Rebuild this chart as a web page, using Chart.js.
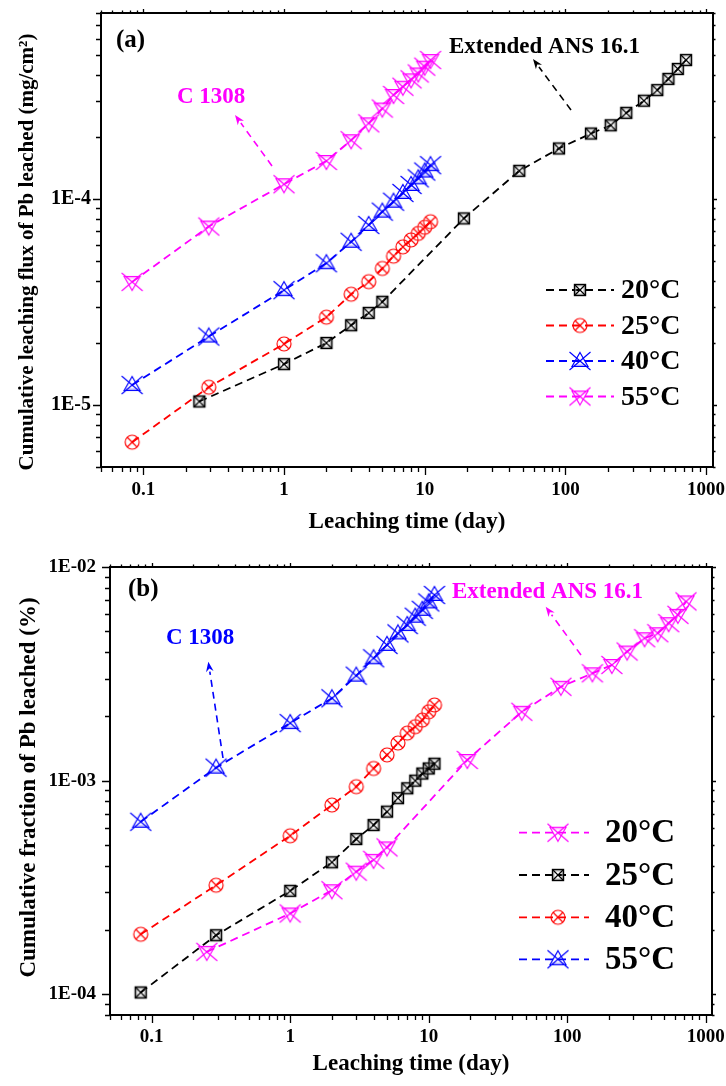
<!DOCTYPE html>
<html>
<head>
<meta charset="utf-8">
<script src="https://cdn.jsdelivr.net/npm/chart.js@4.4.1/dist/chart.umd.min.js"></script>
<style>
  html, body { margin: 0; padding: 0; background: #fff; }
  .panel { position: relative; width: 726px; height: 543px; }
  canvas { display: block; }
</style>
</head>
<body>
<div class="panel"><canvas id="chartA" width="726" height="543"></canvas></div>
<div class="panel"><canvas id="chartB" width="726" height="543"></canvas></div>
<script>
// ---- leaching schedules (days) ----
const daysC1308 = [0.0833, 0.2917, 1, 2, 3, 4, 5, 6, 7, 8, 9, 10, 11];
const daysANS   = [0.25, 1, 2, 3, 4, 5, 19, 47, 90, 152, 210, 271, 362, 450, 540, 630, 720];

// ---- (a) cumulative leaching flux of Pb (mg/cm2) ----
const fluxA20 = [1.04e-5, 1.58e-5, 2.0e-5, 2.44e-5, 2.8e-5, 3.17e-5, 8.05e-5, 1.37e-4, 1.76e-4,
                 2.08e-4, 2.28e-4, 2.62e-4, 3.0e-4, 3.38e-4, 3.83e-4, 4.28e-4, 4.73e-4];
const fluxA25 = [6.6e-6, 1.22e-5, 1.98e-5, 2.67e-5, 3.45e-5, 3.97e-5, 4.6e-5, 5.28e-5, 5.86e-5,
                 6.33e-5, 6.81e-5, 7.29e-5, 7.76e-5];
const fluxA40 = [1.25e-5, 2.15e-5, 3.61e-5, 4.88e-5, 6.2e-5, 7.48e-5, 8.68e-5, 9.7e-5, 1.07e-4,
                 1.17e-4, 1.26e-4, 1.36e-4, 1.46e-4];
const fluxA55 = [3.96e-5, 7.35e-5, 1.18e-4, 1.53e-4, 1.93e-4, 2.33e-4, 2.75e-4, 3.2e-4, 3.51e-4,
                 3.81e-4, 4.07e-4, 4.39e-4, 4.73e-4];

// ---- (b) cumulative fraction of Pb leached (%) ----
const fracB20 = [1.58e-4, 2.39e-4, 3.07e-4, 3.75e-4, 4.26e-4, 4.87e-4, 1.25e-3, 2.1e-3, 2.75e-3,
                 3.18e-3, 3.48e-3, 4.02e-3, 4.64e-3, 4.9e-3, 5.46e-3, 5.97e-3, 6.9e-3];
const fracB25 = [1.02e-4, 1.89e-4, 3.05e-4, 4.15e-4, 5.33e-4, 6.2e-4, 7.16e-4, 8.28e-4, 9.21e-4,
                 1.0e-3, 1.08e-3, 1.14e-3, 1.2e-3];
const fracB40 = [1.91e-4, 3.24e-4, 5.52e-4, 7.69e-4, 9.37e-4, 1.14e-3, 1.32e-3, 1.5e-3, 1.67e-3,
                 1.79e-3, 1.92e-3, 2.1e-3, 2.26e-3];
const fracB55 = [6.42e-4, 1.15e-3, 1.86e-3, 2.43e-3, 3.1e-3, 3.74e-3, 4.32e-3, 4.89e-3, 5.35e-3,
                 5.85e-3, 6.3e-3, 6.83e-3, 7.4e-3];

// ---- tick labels and series names ----
const xTickValues  = [0.1, 1, 10, 100, 1000];
const xTickLabels  = ['0.1', '1', '10', '100', '1000'];
const yTickValuesA = [1e-5, 1e-4];
const yTickLabelsA = ['1E-5', '1E-4'];
const yTickValuesB = [1e-4, 1e-3, 1e-2];
const yTickLabelsB = ['1E-04', '1E-03', '1E-02'];
const seriesNames  = ['20\u00B0C', '25\u00B0C', '40\u00B0C', '55\u00B0C'];

const FONT = "'Liberation Serif', 'Times New Roman', serif";
const BLACK = '#000000', RED = '#FF0000', BLUE = '#0000FF', MAGENTA = '#FF00FF';

// ---- marker glyphs (Origin-like symbols) ----
function markerCanvas(kind, color) {
  const S = 28;
  const c = document.createElement('canvas');
  c.width = S; c.height = S;
  const g = c.getContext('2d');
  g.translate(S / 2, S / 2);
  g.lineWidth = 1.15;
  g.strokeStyle = color;
  g.fillStyle = color;
  const seg = (x1, y1, x2, y2) => { g.beginPath(); g.moveTo(x1, y1); g.lineTo(x2, y2); g.stroke(); };
  if (kind === 'squareX') {
    g.lineWidth = 1.4; g.strokeStyle = '#000';
    g.strokeRect(-5.5, -5.5, 11, 11);
    g.lineWidth = 1; g.strokeStyle = '#808080';
    g.strokeRect(-4.2, -4.2, 8.4, 8.4);
    g.lineWidth = 1.15; g.strokeStyle = '#000';
    seg(-5, -5, 5, 5); seg(-5, 5, 5, -5);
  } else if (kind === 'circleX') {
    g.beginPath(); g.arc(0, 0, 7, 0, Math.PI * 2); g.stroke();
    seg(-5, -5, 5, 5); seg(-5, 5, 5, -5);
    g.beginPath(); g.arc(0, 0, 1.2, 0, Math.PI * 2); g.fill();
  } else {
    const s = kind === 'triUpX' ? 1 : -1;
    g.beginPath();
    g.moveTo(0, -8.5 * s); g.lineTo(8, 5.5 * s); g.lineTo(-8, 5.5 * s); g.closePath();
    g.stroke();
    g.globalAlpha = 0.45; seg(-6.5, 4.2 * s, 6.5, 4.2 * s); g.globalAlpha = 1;
    seg(-10.5, -9, 10.5, 9); seg(-10.5, 9, 10.5, -9);
    g.beginPath(); g.arc(0, 0, 1.1, 0, Math.PI * 2); g.fill();
  }
  return c;
}

const mSquare = markerCanvas('squareX', BLACK);
const mCircle = markerCanvas('circleX', RED);
const mTriUpB = markerCanvas('triUpX', BLUE);
const mTriDnM = markerCanvas('triDownX', MAGENTA);

function series(label, days, values, color, marker) {
  return {
    label,
    data: days.map((d, i) => ({ x: d, y: values[i] })),
    borderColor: color,
    backgroundColor: color,
    borderWidth: 1.8,
    borderDash: [8, 5],
    pointStyle: marker,
    pointRadius: 8,
    pointHoverRadius: 8,
    fill: false,
    tension: 0,
    clip: false
  };
}

function labelFor(values, labels) {
  return (v) => {
    const i = values.findIndex(t => Math.abs(t - v) / t < 1e-6);
    return i >= 0 ? labels[i] : '';
  };
}

// ---- frame, tick marks, titles, notes and legend ----
function decorPlugin(cfg) {
  return {
    id: 'decor',
    afterDraw(chart) {
      const ctx = chart.ctx;
      const a = chart.chartArea;
      const xs = chart.scales.x, ys = chart.scales.y;
      ctx.save();

      // tick marks on all four sides
      ctx.strokeStyle = '#000';
      ctx.lineWidth = 1.3;
      const logSpan = (min, max, fn) => {
        for (let e = Math.floor(Math.log10(min)); e <= Math.ceil(Math.log10(max)); e++) {
          for (let m = 1; m <= 9; m++) {
            const v = m * Math.pow(10, e);
            if (v < min * 0.9999 || v > max * 1.0001) continue;
            fn(v, m === 1);
          }
        }
      };
      logSpan(xs.min, xs.max, (v, major) => {
        const px = Math.round(xs.getPixelForValue(v)) + 0.5;
        ctx.beginPath();
        ctx.moveTo(px, a.bottom); ctx.lineTo(px, a.bottom + (major ? 8 : 5));
        ctx.moveTo(px, a.top); ctx.lineTo(px, a.top - (major ? 4 : 2.5));
        ctx.stroke();
      });
      logSpan(ys.min, ys.max, (v, major) => {
        const py = Math.round(ys.getPixelForValue(v)) + 0.5;
        ctx.beginPath();
        ctx.moveTo(a.left, py); ctx.lineTo(a.left - (major ? 8 : 5), py);
        ctx.moveTo(a.right, py); ctx.lineTo(a.right + (major ? 4 : 2.5), py);
        ctx.stroke();
      });

      // plot frame
      ctx.lineWidth = 2;
      ctx.strokeRect(a.left, a.top, a.right - a.left, a.bottom - a.top);

      // vertical axis title
      ctx.save();
      ctx.translate(cfg.yTitle.x, cfg.yTitle.y);
      ctx.rotate(-Math.PI / 2);
      ctx.fillStyle = '#000';
      ctx.font = `bold ${cfg.yTitle.size}px ${FONT}`;
      ctx.textAlign = 'center';
      ctx.textBaseline = 'alphabetic';
      ctx.fillText(cfg.yTitle.text, 0, 0);
      ctx.restore();

      // text notes
      ctx.textAlign = 'left';
      ctx.textBaseline = 'alphabetic';
      cfg.notes.forEach(n => {
        ctx.fillStyle = n.color;
        ctx.font = `bold ${n.size}px ${FONT}`;
        ctx.fillText(n.text, n.x, n.y);
      });

      // dashed pointer arrows
      cfg.arrows.forEach(ar => {
        const dx = ar.x2 - ar.x1, dy = ar.y2 - ar.y1;
        const len = Math.hypot(dx, dy), ux = dx / len, uy = dy / len;
        const head = 10, half = 3.8;
        ctx.strokeStyle = ar.color;
        ctx.fillStyle = ar.color;
        ctx.lineWidth = 1.6;
        ctx.setLineDash([7, 5]);
        ctx.beginPath();
        ctx.moveTo(ar.x1, ar.y1);
        ctx.lineTo(ar.x2 - ux * head, ar.y2 - uy * head);
        ctx.stroke();
        ctx.setLineDash([]);
        ctx.beginPath();
        ctx.moveTo(ar.x2, ar.y2);
        ctx.lineTo(ar.x2 - ux * head - uy * half, ar.y2 - uy * head + ux * half);
        ctx.lineTo(ar.x2 - ux * (head - 3), ar.y2 - uy * (head - 3));
        ctx.lineTo(ar.x2 - ux * head + uy * half, ar.y2 - uy * head - ux * half);
        ctx.closePath();
        ctx.fill();
      });

      // legend: dashed sample, symbol, name
      const L = cfg.legend;
      chart.data.datasets.forEach((ds, i) => {
        const y = L.rows[i];
        ctx.strokeStyle = ds.borderColor;
        ctx.lineWidth = 1.8;
        ctx.setLineDash([8, 5]);
        ctx.beginPath();
        ctx.moveTo(L.x1, y); ctx.lineTo(L.x2, y);
        ctx.stroke();
        ctx.setLineDash([]);
        const img = ds.pointStyle;
        ctx.drawImage(img, L.mx - img.width / 2, y - img.height / 2);
        ctx.fillStyle = '#000';
        ctx.font = `bold ${L.size}px ${FONT}`;
        ctx.textBaseline = 'middle';
        ctx.fillText(ds.label, L.tx, y + 1);
        ctx.textBaseline = 'alphabetic';
      });

      ctx.restore();
    }
  };
}

function makeChart(id, opts) {
  return new Chart(document.getElementById(id), {
    type: 'line',
    data: { datasets: opts.datasets },
    options: {
      responsive: false,
      animation: false,
      devicePixelRatio: 1,
      layout: { padding: opts.padding },
      plugins: { legend: { display: false }, tooltip: { enabled: false } },
      scales: {
        x: {
          type: 'logarithmic',
          position: 'bottom',
          min: opts.xMin, max: opts.xMax,
          afterBuildTicks: s => { s.ticks = xTickValues.map(v => ({ value: v })); },
          afterFit: s => { s.height = opts.xAxisH; s.paddingLeft = 0; s.paddingRight = 0; },
          grid: { display: false, drawTicks: false },
          border: { display: false },
          ticks: {
            autoSkip: false, maxRotation: 0, padding: opts.xTickPad, color: '#000',
            font: { family: FONT, size: 19, weight: 'bold' },
            callback: labelFor(xTickValues, xTickLabels)
          },
          title: {
            display: true, text: 'Leaching time (day)', color: '#000',
            font: { family: FONT, size: 23, weight: 'bold' },
            padding: { top: 0, bottom: opts.xTitlePad }
          }
        },
        y: {
          type: 'logarithmic',
          position: 'left',
          min: opts.yMin, max: opts.yMax,
          afterBuildTicks: s => { s.ticks = opts.yTicks.map(v => ({ value: v })); },
          afterFit: s => { s.width = opts.yAxisW; s.paddingTop = 0; s.paddingBottom = 0; },
          grid: { display: false, drawTicks: false },
          border: { display: false },
          ticks: {
            autoSkip: false, padding: opts.yTickPad, color: '#000',
            font: { family: FONT, size: opts.yTickSize, weight: 'bold' },
            callback: labelFor(opts.yTicks, opts.yLabels)
          },
          title: { display: false }
        }
      }
    },
    plugins: [decorPlugin(opts.decor)]
  });
}

// ---- panel (a) ----
makeChart('chartA', {
  datasets: [
    series(seriesNames[0], daysANS,   fluxA20, BLACK,   mSquare),
    series(seriesNames[1], daysC1308, fluxA25, RED,     mCircle),
    series(seriesNames[2], daysC1308, fluxA40, BLUE,    mTriUpB),
    series(seriesNames[3], daysC1308, fluxA55, MAGENTA, mTriDnM)
  ],
  padding: { left: 0, right: 13, top: 13, bottom: 0 },
  xMin: 0.05, xMax: 1120, yMin: 5e-6, yMax: 8e-4,
  xAxisH: 76, yAxisW: 101, xTickPad: 12, yTickPad: 10, yTickSize: 20, xTitlePad: 7,
  yTicks: yTickValuesA, yLabels: yTickLabelsA,
  decor: {
    yTitle: { text: 'Cumulative leaching flux of Pb leached (mg/cm\u00B2)', x: 33, y: 252, size: 21 },
    notes: [
      { text: '(a)', x: 116, y: 47, size: 25, color: BLACK },
      { text: 'C 1308', x: 177, y: 103, size: 23, color: MAGENTA },
      { text: 'Extended ANS 16.1', x: 449, y: 52.5, size: 23, color: BLACK }
    ],
    arrows: [
      { x1: 272, y1: 166, x2: 235, y2: 115, color: MAGENTA },
      { x1: 571, y1: 110, x2: 533, y2: 59, color: BLACK }
    ],
    legend: { rows: [290, 325.5, 361, 396.5], x1: 546, x2: 614, mx: 580, tx: 621, size: 28 }
  }
});

// ---- panel (b) ----
makeChart('chartB', {
  datasets: [
    series(seriesNames[0], daysANS,   fracB20, MAGENTA, mTriDnM),
    series(seriesNames[1], daysC1308, fracB25, BLACK,   mSquare),
    series(seriesNames[2], daysC1308, fracB40, RED,     mCircle),
    series(seriesNames[3], daysC1308, fracB55, BLUE,    mTriUpB)
  ],
  padding: { left: 0, right: 14, top: 24, bottom: 0 },
  xMin: 0.05, xMax: 1110, yMin: 8e-5, yMax: 1e-2,
  xAxisH: 71, yAxisW: 110, xTickPad: 10.5, yTickPad: 14, yTickSize: 19, xTitlePad: 8,
  yTicks: yTickValuesB, yLabels: yTickLabelsB,
  decor: {
    yTitle: { text: 'Cumulative fraction of Pb leached (%)', x: 35, y: 244.5, size: 23 },
    notes: [
      { text: '(b)', x: 128, y: 53, size: 25, color: BLACK },
      { text: 'C 1308', x: 166, y: 101, size: 23, color: BLUE },
      { text: 'Extended ANS 16.1', x: 452, y: 55.3, size: 23, color: MAGENTA }
    ],
    arrows: [
      { x1: 223, y1: 215, x2: 208.3, y2: 118.7, color: BLUE },
      { x1: 581, y1: 112, x2: 545.7, y2: 63.7, color: MAGENTA }
    ],
    legend: { rows: [289.7, 332, 374.3, 416.3], x1: 519, x2: 589, mx: 558, tx: 605, size: 33 }
  }
});
</script>
</body>
</html>
